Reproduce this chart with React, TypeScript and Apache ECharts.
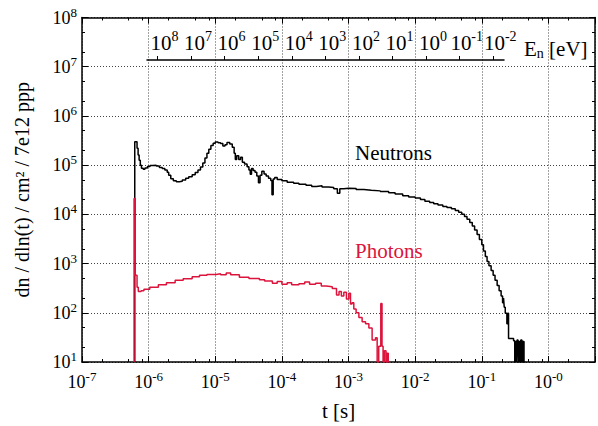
import React, { useEffect, useRef } from "react";
import * as echarts from "echarts";

const FONT = "Liberation Serif";
const RED = "#dc143c";

// axis ranges
const X_MIN = 1e-7;
const X_MAX = 5;
const Y_MIN = 10;
const Y_MAX = 1e8;
const E_MIN = 4.8e-3;
const E_MAX = 2.04e8;

// tick values
const X_MINOR_MANT = [2, 5, 8];
const Y_MINOR_MANT = [2, 5];
const E_TICKS = [1e8, 1e7, 1e6, 1e5, 1e4, 1e3, 1e2, 1e1, 1e0, 1e-1, 1e-2];

// neutron histogram: bin left edge [s] and value
const NEUTRON_T = [
  6.19e-7, 6.19e-7, 6.7e-7, 6.95e-7, 7.2e-7, 7.5e-7, 7.8e-7, 8.3e-7, 8.8e-7, 9.6e-7,
  1.05e-6, 1.15e-6, 1.3e-6, 1.45e-6, 1.6e-6, 1.75e-6, 1.9e-6, 2.0e-6, 2.15e-6, 2.35e-6,
  2.6e-6, 2.9e-6, 3.2e-6, 3.6e-6, 4.0e-6, 4.5e-6, 5.0e-6, 5.5e-6, 6.0e-6, 6.5e-6,
  7.0e-6, 7.5e-6, 8.0e-6, 8.6e-6, 9.3e-6, 1.0e-5, 1.1e-5, 1.2e-5, 1.3e-5, 1.4e-5,
  1.5e-5, 1.65e-5, 1.8e-5, 1.92e-5, 2.0e-5, 2.1e-5, 2.25e-5, 2.4e-5, 2.55e-5, 2.75e-5,
  3.0e-5, 3.2e-5, 3.35e-5, 3.5e-5, 3.7e-5, 3.95e-5, 4.2e-5, 4.45e-5, 4.7e-5, 5.0e-5,
  5.4e-5, 5.8e-5, 6.3e-5, 6.8e-5, 7.1e-5, 7.4e-5, 7.8e-5, 8.5e-5, 1.0e-4, 1.2e-4,
  1.5e-4, 1.8e-4, 2.3e-4, 2.8e-4, 3.3e-4, 4.0e-4, 5.0e-4, 6.0e-4, 6.8e-4, 7.4e-4,
  8.5e-4, 1.0e-3, 1.3e-3, 1.7e-3, 2.2e-3, 3.0e-3, 4.0e-3, 5.0e-3, 6.5e-3, 8.0e-3,
  1.0e-2, 1.2e-2, 1.4e-2, 1.65e-2, 1.9e-2, 2.2e-2, 2.6e-2, 3.0e-2, 3.5e-2, 4.0e-2,
  4.5e-2, 5.0e-2, 5.5e-2, 6.0e-2, 6.6e-2, 7.2e-2, 7.8e-2, 8.5e-2, 9.2e-2, 1.0e-1,
  1.06e-1, 1.13e-1, 1.2e-1, 1.28e-1, 1.38e-1, 1.48e-1, 1.58e-1, 1.7e-1, 1.82e-1, 1.95e-1,
  2.05e-1, 2.12e-1, 2.17e-1, 2.25e-1, 2.38e-1, 2.45e-1, 2.52e-1, 3.0e-1, 3.12e-1, 3.2e-1,
  3.3e-1, 3.38e-1, 3.5e-1, 3.6e-1, 3.75e-1, 3.85e-1, 4.0e-1, 4.1e-1, 4.3e-1, 4.5e-1,
];
const NEUTRON_V = [
  10, 3.0e5, 2.2e5, 1.6e5, 1.25e5, 1.0e5, 8.6e4, 8.3e4, 8.8e4, 9.4e4,
  9.8e4, 1.0e5, 9.6e4, 9.0e4, 8.5e4, 8.0e4, 7.2e4, 6.2e4, 5.3e4, 4.8e4,
  4.6e4, 4.7e4, 5.0e4, 5.4e4, 5.8e4, 6.4e4, 7.1e4, 8.0e4, 9.2e4, 1.1e5,
  1.4e5, 1.75e5, 2.1e5, 2.5e5, 2.8e5, 2.95e5, 2.85e5, 2.75e5, 2.45e5, 2.6e5,
  2.9e5, 2.7e5, 2.3e5, 1.75e5, 1.3e5, 1.55e5, 1.3e5, 1.45e5, 1.15e5, 1.05e5,
  9.3e4, 8.0e4, 6.5e4, 8.5e4, 7.8e4, 7.2e4, 6.0e4, 4.4e4, 6.2e4, 7.5e4,
  6.6e4, 6.0e4, 5.4e4, 4.9e4, 2.5e4, 5.2e4, 5.6e4, 5.1e4, 4.8e4, 4.5e4,
  4.3e4, 4.1e4, 3.9e4, 3.7e4, 3.8e4, 3.6e4, 3.5e4, 3.3e4, 2.7e4, 3.3e4,
  3.4e4, 3.35e4, 3.2e4, 3.1e4, 3.0e4, 2.9e4, 2.75e4, 2.6e4, 2.4e4, 2.25e4,
  2.15e4, 2.0e4, 1.85e4, 1.75e4, 1.65e4, 1.55e4, 1.45e4, 1.38e4, 1.3e4, 1.2e4,
  1.1e4, 1.0e4, 9.0e3, 8.0e3, 6.8e3, 5.8e3, 4.8e3, 3.9e3, 3.1e3, 2.4e3,
  1.8e3, 1.4e3, 1.1e3, 9.0e2, 7.2e2, 5.8e2, 4.6e2, 3.6e2, 2.8e2, 2.2e2,
  1.6e2, 2.0e2, 1.3e2, 9.8e1, 6.0e1, 9.8e1, 3.0e1, 2.7e1, 10, 2.6e1,
  10, 2.8e1, 10, 2.6e1, 10, 2.8e1, 10, 2.6e1, 10, 10,
];

// photon histogram: bin left edge [s] and value
const PHOTON_T = [
  6.05e-7, 6.05e-7, 6.3e-7, 6.7e-7, 7.0e-7, 7.7e-7, 8.5e-7, 1.04e-6, 1.4e-6, 1.85e-6,
  2.5e-6, 3.3e-6, 4.5e-6, 5.8e-6, 7.5e-6, 1.03e-5, 1.2e-5, 1.46e-5, 1.7e-5, 2.3e-5,
  3.2e-5, 4.6e-5, 5.5e-5, 7.2e-5, 8.5e-5, 1.0e-4, 1.2e-4, 1.4e-4, 1.8e-4, 2.2e-4,
  2.6e-4, 3.2e-4, 3.9e-4, 4.6e-4, 5.7e-4, 6.6e-4, 7.2e-4, 7.8e-4, 8.5e-4, 9.3e-4,
  1.01e-3, 1.07e-3, 1.13e-3, 1.2e-3, 1.3e-3, 1.43e-3, 1.6e-3, 1.8e-3, 2.02e-3, 2.26e-3,
  2.54e-3, 2.69e-3, 2.84e-3, 3.05e-3, 3.18e-3, 3.3e-3, 3.45e-3, 3.65e-3, 3.75e-3, 3.95e-3,
  4.1e-3,
];
const PHOTON_V = [
  10, 2.1e4, 5.8e2, 3.3e2, 2.7e2, 2.8e2, 3.0e2, 3.3e2, 3.7e2, 4.1e2,
  4.6e2, 4.9e2, 5.4e2, 5.8e2, 6.0e2, 6.2e2, 5.9e2, 6.4e2, 5.9e2, 5.3e2,
  5.0e2, 4.7e2, 4.4e2, 4.0e2, 4.3e2, 3.8e2, 4.1e2, 3.7e2, 3.9e2, 4.2e2,
  3.8e2, 4.0e2, 3.5e2, 3.4e2, 3.1e2, 2.3e2, 2.7e2, 2.2e2, 2.6e2, 1.9e2,
  2.5e2, 1.5e2, 1.6e2, 1.2e2, 1.0e2, 80, 66, 60, 49, 28,
  31, 10, 21, 155, 21, 10, 17, 10, 15, 10,
  10,
];

const minorValues = (lo: number, hi: number, mant: number[], max: number) => {
  const out: number[] = [];
  for (let e = lo; e <= hi; e++) for (const m of mant) {
    const v = m * Math.pow(10, e);
    if (v < max) out.push(v);
  }
  return out;
};

const powLabel = (v: number, zeroAsMinus: boolean) => {
  const e = Math.log10(v);
  const r = Math.round(e);
  if (Math.abs(e - r) > 0.01) return "";
  const s = r === 0 && zeroAsMinus ? "-0" : String(r);
  return `{b|10}{s|${s}}`;
};

const richFor = (base: number, sup: number) => ({
  b: { fontFamily: FONT, fontSize: base, color: "#000", lineHeight: base + 6 },
  s: { fontFamily: FONT, fontSize: sup, color: "#000", verticalAlign: "top", lineHeight: sup + 1 },
});

export default function App() {
  const ref = useRef<HTMLDivElement>(null);
  useEffect(() => {
    if (!ref.current) return;
    const chart = echarts.init(ref.current, undefined, { renderer: "svg" });
    const neutron = NEUTRON_T.map((t, i) => [t, NEUTRON_V[i]]);
    const photon = PHOTON_T.map((t, i) => [t, PHOTON_V[i]]);
    const xMinor = minorValues(-7, 0, X_MINOR_MANT, X_MAX);
    const yMinor = minorValues(1, 7, Y_MINOR_MANT, Y_MAX);
    const axisLine = { show: true, lineStyle: { color: "#000", width: 1.5 } };
    const hiddenLabel = { show: false };

    const mainX = (position: string, labels: boolean, split: boolean) => ({
      type: "log", gridIndex: 0, position, min: X_MIN, max: X_MAX, logBase: 10, splitNumber: 8,
      axisLine, axisTick: { show: true, inside: true, length: 6, lineStyle: { color: "#000", width: 1 } },
      axisLabel: labels
        ? { show: true, margin: 8, formatter: (v: number) => powLabel(v, true), rich: richFor(18, 13) }
        : hiddenLabel,
      splitLine: { show: split, lineStyle: { color: "#444", type: [1, 2], width: 1 } },
    });
    const minorX = (position: string) => ({
      type: "log", gridIndex: 0, position, min: X_MIN, max: X_MAX, logBase: 10,
      axisLine: { show: false },
      axisTick: { show: true, inside: true, length: 3, customValues: xMinor, lineStyle: { color: "#000", width: 1 } },
      axisLabel: hiddenLabel, splitLine: { show: false },
    });
    const mainY = (position: string, labels: boolean, split: boolean) => ({
      type: "log", gridIndex: 0, position, min: Y_MIN, max: Y_MAX, logBase: 10, splitNumber: 8,
      axisLine, axisTick: { show: true, inside: true, length: 6, lineStyle: { color: "#000", width: 1 } },
      axisLabel: labels
        ? { show: true, margin: 5, formatter: (v: number) => powLabel(v, false), rich: richFor(18, 13) }
        : hiddenLabel,
      splitLine: { show: split, lineStyle: { color: "#444", type: [1, 2], width: 1 } },
      ...(labels
        ? {
            name: "dn / dln(t) / cm² / 7e12 ppp", nameLocation: "middle", nameGap: 50, nameRotate: 90,
            nameTextStyle: { fontFamily: FONT, fontSize: 20, color: "#000" },
          }
        : {}),
    });
    const minorY = (position: string) => ({
      type: "log", gridIndex: 0, position, min: Y_MIN, max: Y_MAX, logBase: 10,
      axisLine: { show: false },
      axisTick: { show: true, inside: true, length: 3, customValues: yMinor, lineStyle: { color: "#000", width: 1 } },
      axisLabel: hiddenLabel, splitLine: { show: false },
    });

    const xBottom: any = mainX("bottom", true, true);
    xBottom.name = "t [s]";
    xBottom.nameLocation = "middle";
    xBottom.nameGap = 38;
    xBottom.nameTextStyle = { fontFamily: FONT, fontSize: 21, color: "#000" };

    chart.setOption({
      animation: false,
      backgroundColor: "#fff",
      textStyle: { fontFamily: FONT },
      grid: [
        { left: 82, right: 1.5, top: 17.5, bottom: 60.5, containLabel: false },
        { left: 147, right: 94, top: 59, height: 1, containLabel: false },
      ],
      xAxis: [
        xBottom,
        mainX("top", false, false),
        minorX("bottom"),
        minorX("top"),
        {
          type: "log", gridIndex: 1, position: "top", inverse: true, min: E_MIN, max: E_MAX, logBase: 10,
          axisLine: { show: true, lineStyle: { color: "#000", width: 1.5 } },
          axisTick: { show: true, inside: false, length: 4, customValues: E_TICKS, lineStyle: { color: "#000", width: 1 } },
          axisLabel: {
            show: true, margin: 3, customValues: E_TICKS, padding: [0, 0, 0, 14],
            formatter: (v: number) => powLabel(v, false), rich: richFor(21, 14),
          },
          splitLine: { show: false },
        },
      ],
      yAxis: [
        mainY("left", true, true),
        mainY("right", false, false),
        minorY("left"),
        minorY("right"),
        { type: "value", gridIndex: 1, show: false, min: 0, max: 1 },
      ],
      graphic: [
        {
          type: "text", left: 355, top: 142, silent: true,
          style: { text: "Neutrons", fontFamily: FONT, fontSize: 21, fill: "#000" },
        },
        {
          type: "text", left: 355, top: 240, silent: true,
          style: { text: "Photons", fontFamily: FONT, fontSize: 21, fill: RED },
        },
        {
          type: "text", left: 524, top: 38, silent: true,
          style: {
            text: "{a|E}{n|n}{a| [eV]}",
            rich: {
              a: { fontFamily: FONT, fontSize: 21, fill: "#000", lineHeight: 24 },
              n: { fontFamily: FONT, fontSize: 14, fill: "#000", verticalAlign: "bottom", lineHeight: 14 },
            },
          },
        },
      ],
      series: [
        {
          name: "Neutrons", type: "line", xAxisIndex: 0, yAxisIndex: 0, step: "end", data: neutron,
          showSymbol: false, symbol: "none", lineStyle: { color: "#000", width: 1.5 }, clip: true,
        },
        {
          name: "Photons", type: "line", xAxisIndex: 0, yAxisIndex: 0, step: "end", data: photon,
          showSymbol: false, symbol: "none", lineStyle: { color: RED, width: 1.5 }, clip: true,
        },
      ],
    });
    return () => chart.dispose();
  }, []);
  return <div ref={ref} style={{ width: 598, height: 426, position: "absolute", left: 0, top: 0 }} />;
}
